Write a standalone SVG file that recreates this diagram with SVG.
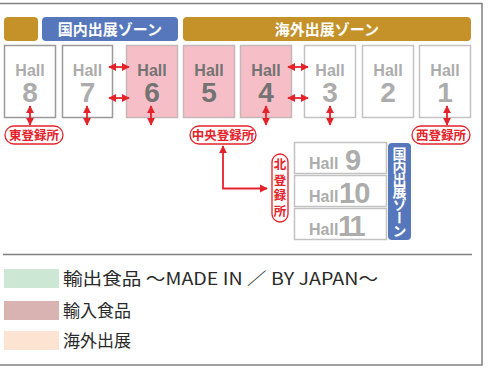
<svg xmlns="http://www.w3.org/2000/svg" width="493" height="371" viewBox="0 0 493 371">
<defs>
<style>
.frame{fill:none;stroke:#808080;stroke-width:1.5}
.zone-gold{fill:#c49228}
.zone-blue{fill:#5677bb}
.zt{font-family:"Noto Sans CJK JP",sans-serif;font-weight:bold;font-size:15px;fill:#fff;text-anchor:middle}
.vt{font-family:"Noto Sans CJK JP",sans-serif;font-weight:bold;fill:#fff;writing-mode:vertical-rl;text-orientation:upright}
.hw{fill:#fff;stroke:#9a9a9a;stroke-width:1.5}
.hl{fill:#fff;stroke:#c2c2c2;stroke-width:1.5}
.hp{fill:#f6bfc7;stroke:#c4b6b9;stroke-width:1.5}
.ht{font-family:"Liberation Sans",Arial,sans-serif;font-weight:bold;fill:#acacac;text-anchor:middle}
.htp{font-family:"Liberation Sans",Arial,sans-serif;font-weight:bold;fill:#737373;text-anchor:middle}
.s{font-size:16px}
.n{font-size:28px}
.reg{fill:#fff;stroke:#e5222a;stroke-width:1.3}
.rt{font-family:"Noto Sans CJK JP",sans-serif;font-size:12.5px;font-weight:bold;fill:#e5222a;text-anchor:middle}
.rv{font-family:"Noto Sans CJK JP",sans-serif;font-size:12.5px;font-weight:bold;fill:#e5222a;writing-mode:vertical-rl;letter-spacing:3px}
.arr{fill:none;stroke:#e5222a;stroke-width:1.8}
.lt{font-family:"Noto Sans CJK JP",sans-serif;font-size:17px;fill:#2a2a2a}
</style>
<marker id="ah" viewBox="0 0 10 10" refX="9" refY="5" markerWidth="4.5" markerHeight="4.5" orient="auto-start-reverse" markerUnits="strokeWidth">
<path d="M0,0 L10,5 L0,10 z" fill="#e5222a"/>
</marker>
</defs>

<rect width="493" height="371" fill="#fff"/>
<g id="frame">
<polyline class="frame" points="0,3.5 482,3.5 482,365 0,365"/>
<line x1="3" y1="254.5" x2="472" y2="254.5" stroke="#808080" stroke-width="1.5"/>
</g>

<g id="zone-small"><rect class="zone-gold" x="4" y="17" width="34" height="24" rx="4"/></g>
<g id="zone-domestic"><rect class="zone-blue" x="42" y="17" width="136" height="24" rx="4"/><text class="zt" x="110" y="35">国内出展ゾーン</text></g>
<g id="zone-overseas"><rect class="zone-gold" x="183" y="17" width="288" height="24" rx="4"/><text class="zt" x="327" y="35">海外出展ゾーン</text></g>

<g id="hall8"><rect class="hw" x="4.5" y="45.5" width="51" height="72"/><text class="ht s" x="30" y="76">Hall</text><text class="ht n" x="30" y="102">8</text></g>
<g id="hall7"><rect class="hw" x="62.5" y="45.5" width="50" height="72"/><text class="ht s" x="87.5" y="76">Hall</text><text class="ht n" x="87.5" y="102">7</text></g>
<g id="hall6"><rect class="hp" x="126.5" y="45.5" width="51" height="72"/><text class="htp s" x="152" y="76">Hall</text><text class="htp n" x="152" y="102">6</text></g>
<g id="hall5"><rect class="hp" x="183.5" y="45.5" width="51" height="72"/><text class="htp s" x="209" y="76">Hall</text><text class="htp n" x="209" y="102">5</text></g>
<g id="hall4"><rect class="hp" x="240.5" y="45.5" width="51" height="72"/><text class="htp s" x="266" y="76">Hall</text><text class="htp n" x="266" y="102">4</text></g>
<g id="hall3"><rect class="hl" x="304.5" y="45.5" width="51" height="72"/><text class="ht s" x="330" y="76">Hall</text><text class="ht n" x="330" y="102">3</text></g>
<g id="hall2"><rect class="hl" x="362.5" y="45.5" width="51" height="72"/><text class="ht s" x="388" y="76">Hall</text><text class="ht n" x="388" y="102">2</text></g>
<g id="hall1"><rect class="hl" x="419.5" y="45.5" width="51" height="72"/><text class="ht s" x="445" y="76">Hall</text><text class="ht n" x="445" y="102">1</text></g>

<g id="hall9"><rect class="hl" x="294.5" y="142.5" width="92" height="31"/><text class="ht" x="309" y="169" style="text-anchor:start;font-size:16px">Hall</text><text class="ht" x="345" y="170" style="text-anchor:start;font-size:29px">9</text></g>
<g id="hall10"><rect class="hl" x="294.5" y="175.5" width="92" height="31"/><text class="ht" x="309" y="202" style="text-anchor:start;font-size:16px">Hall</text><text class="ht" x="339" y="203" style="text-anchor:start;font-size:29px;letter-spacing:-1px">10</text></g>
<g id="hall11"><rect class="hl" x="294.5" y="208.5" width="92" height="31"/><text class="ht" x="309" y="235" style="text-anchor:start;font-size:16px">Hall</text><text class="ht" x="338" y="236" style="text-anchor:start;font-size:29px;letter-spacing:-3px">11</text></g>

<g id="zone-domestic-v"><rect class="zone-blue" x="388" y="143" width="23" height="97" rx="4"/>
<text class="vt" x="399.5" y="147" style="font-size:14px;letter-spacing:-1.3px">国内出展ゾーン</text>
</g>

<g id="reg-east"><rect class="reg" x="5" y="126" width="58" height="18" rx="9"/><text class="rt" x="34" y="139.5">東登録所</text></g>
<g id="reg-central"><rect class="reg" x="190" y="126" width="66" height="18" rx="9"/><text class="rt" x="223" y="139.5">中央登録所</text></g>
<g id="reg-west"><rect class="reg" x="412" y="126" width="58" height="18" rx="9"/><text class="rt" x="441" y="139.5">西登録所</text></g>
<g id="reg-north"><rect class="reg" x="272" y="154" width="16" height="68" rx="8"/>
<text class="rv" x="280" y="158">北登録所</text>
</g>

<g id="connectors">
<line class="arr" x1="30" y1="106" x2="30" y2="125" marker-start="url(#ah)" marker-end="url(#ah)"/>
<line class="arr" x1="87" y1="106" x2="87" y2="125" marker-start="url(#ah)" marker-end="url(#ah)"/>
<line class="arr" x1="151" y1="106" x2="151" y2="125" marker-start="url(#ah)" marker-end="url(#ah)"/>
<line class="arr" x1="266" y1="106" x2="266" y2="125" marker-start="url(#ah)" marker-end="url(#ah)"/>
<line class="arr" x1="330" y1="106" x2="330" y2="125" marker-start="url(#ah)" marker-end="url(#ah)"/>
<line class="arr" x1="447" y1="106" x2="447" y2="125" marker-start="url(#ah)" marker-end="url(#ah)"/>
<line class="arr" x1="109" y1="67" x2="129" y2="67" marker-start="url(#ah)" marker-end="url(#ah)"/>
<line class="arr" x1="109" y1="98" x2="129" y2="98" marker-start="url(#ah)" marker-end="url(#ah)"/>
<line class="arr" x1="288" y1="67" x2="308" y2="67" marker-start="url(#ah)" marker-end="url(#ah)"/>
<line class="arr" x1="288" y1="98" x2="308" y2="98" marker-start="url(#ah)" marker-end="url(#ah)"/>
<polyline class="arr" points="223,146 223,188.5 267,188.5" marker-start="url(#ah)" marker-end="url(#ah)"/>
</g>

<g id="legend">
<rect x="4" y="269" width="55" height="19" fill="#cde7d5"/>
<text class="lt" x="63" y="285" textLength="315" lengthAdjust="spacingAndGlyphs">輸出食品 ～MADE IN ／ BY JAPAN～</text>
<rect x="4" y="301" width="55" height="19" fill="#d8b3b1"/>
<text class="lt" x="63" y="317">輸入食品</text>
<rect x="4" y="331" width="55" height="19" fill="#fde4d2"/>
<text class="lt" x="63" y="347">海外出展</text>
</g>
</svg>
